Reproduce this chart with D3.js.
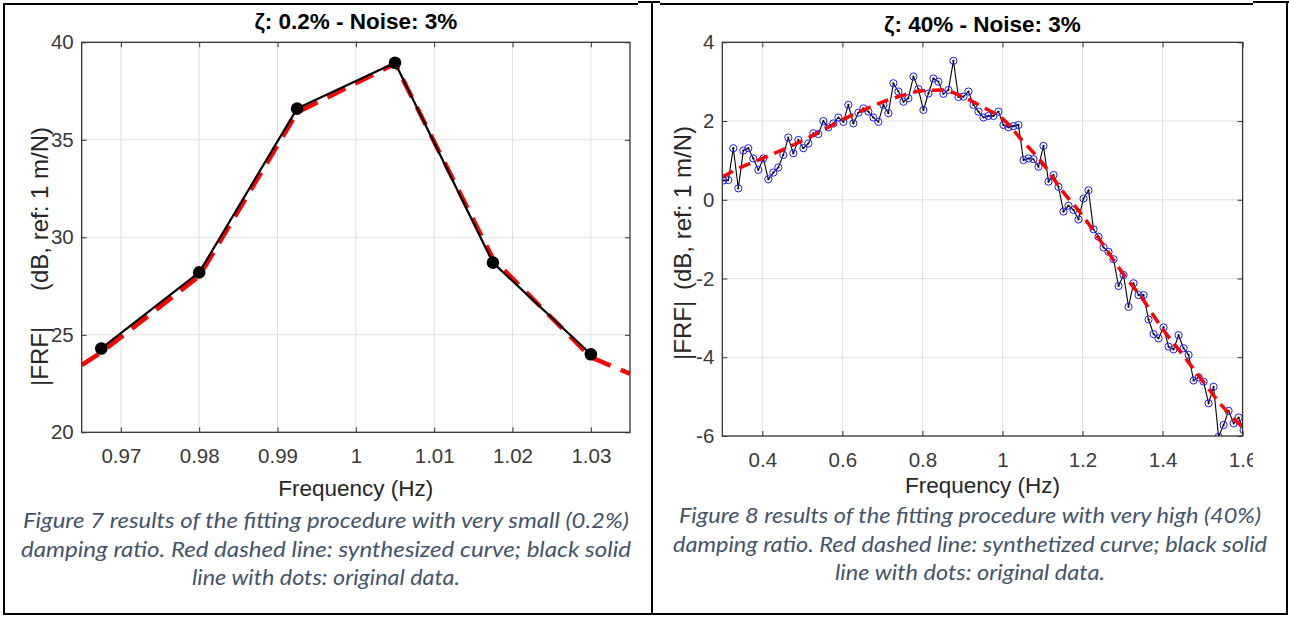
<!DOCTYPE html>
<html>
<head>
<meta charset="utf-8">
<script src="https://cdn.jsdelivr.net/npm/d3@7"></script>
<style>
  body { margin: 0; background: #fff; }
  svg text { font-family: "Liberation Sans", Arial, Helvetica, sans-serif; }
  .caption { font-family: "Lato", "Open Sans", sans-serif; font-style: italic; fill: #44546A; }
</style>
</head>
<body>
<svg id="fig" width="1289" height="617"></svg>
<script>
// ---------- Figure 7: damping 0.2 %, noise 3 % ----------
const fig7Freq = [0.9675, 0.9800, 0.9925, 1.0050, 1.0175, 1.0300];
const fig7Data = [24.3, 28.2, 36.6, 38.95, 28.7, 24.0];
const fig7FitFreq = [0.965, 0.9675, 0.9800, 0.9925, 1.0050, 1.0175, 1.0300, 1.035];
const fig7Fit = [23.45, 24.1, 28.0, 36.4, 38.9, 28.9, 23.85, 23.0];
const fig7XTicks = [0.97, 0.98, 0.99, 1, 1.01, 1.02, 1.03];
const fig7YTicks = [20, 25, 30, 35, 40];

// ---------- Figure 8: damping 40 %, noise 3 % ----------
const fig8Freq = [
  0.3025, 0.3150, 0.3275, 0.3400, 0.3525, 0.3650, 0.3775, 0.3900, 0.4025, 0.4150,
  0.4275, 0.4400, 0.4525, 0.4650, 0.4775, 0.4900, 0.5025, 0.5150, 0.5275, 0.5400,
  0.5525, 0.5650, 0.5775, 0.5900, 0.6025, 0.6150, 0.6275, 0.6400, 0.6525, 0.6650,
  0.6775, 0.6900, 0.7025, 0.7150, 0.7275, 0.7400, 0.7525, 0.7650, 0.7775, 0.7900,
  0.8025, 0.8150, 0.8275, 0.8400, 0.8525, 0.8650, 0.8775, 0.8900, 0.9025, 0.9150,
  0.9275, 0.9400, 0.9525, 0.9650, 0.9775, 0.9900, 1.0025, 1.0150, 1.0275, 1.0400,
  1.0525, 1.0650, 1.0775, 1.0900, 1.1025, 1.1150, 1.1275, 1.1400, 1.1525, 1.1650,
  1.1775, 1.1900, 1.2025, 1.2150, 1.2275, 1.2400, 1.2525, 1.2650, 1.2775, 1.2900,
  1.3025, 1.3150, 1.3275, 1.3400, 1.3525, 1.3650, 1.3775, 1.3900, 1.4025, 1.4150,
  1.4275, 1.4400, 1.4525, 1.4650, 1.4775, 1.4900, 1.5025, 1.5150, 1.5275, 1.5400,
  1.5525, 1.5650, 1.5775, 1.5900, 1.6025
];
const fig8Data = [
  0.49, 0.50, 1.31, 0.29, 1.25, 1.31, 1.05, 0.76, 1.05, 0.52,
  0.69, 0.82, 1.14, 1.58, 1.18, 1.52, 1.31, 1.43, 1.69, 1.67,
  2.00, 1.84, 1.94, 2.09, 1.98, 2.41, 1.94, 2.21, 2.32, 2.24,
  2.09, 1.98, 2.41, 2.20, 2.96, 2.75, 2.49, 2.58, 3.13, 2.81,
  2.28, 2.70, 3.08, 3.00, 2.69, 2.79, 3.53, 2.61, 2.62, 2.75,
  2.41, 2.24, 2.09, 2.13, 2.13, 2.24, 1.90, 1.84, 1.87, 1.90,
  1.01, 1.05, 1.03, 0.84, 1.37, 0.46, 0.63, 0.33, -0.30, -0.15,
  -0.26, -0.50, 0.03, 0.24, -0.75, -0.94, -1.21, -1.32, -1.51, -2.19,
  -1.91, -2.72, -2.12, -2.42, -2.42, -3.04, -3.41, -3.52, -3.24, -3.73,
  -3.80, -3.44, -3.77, -3.94, -4.59, -4.51, -4.62, -5.17, -4.75, -6.02,
  -5.72, -5.36, -5.68, -5.53, -5.85
];
const fig8FitFreq = [
  0.30, 0.35, 0.40, 0.45, 0.50, 0.55, 0.60, 0.65, 0.70, 0.75, 0.80, 0.85, 0.90, 0.95,
  1.00, 1.05, 1.10, 1.15, 1.20, 1.25, 1.30, 1.35, 1.40, 1.45, 1.50, 1.55, 1.60
];
const fig8Fit = [
  0.58, 0.84, 1.05, 1.27, 1.50, 1.76, 2.03, 2.27, 2.48, 2.65, 2.77, 2.79, 2.62, 2.36,
  2.06, 1.50, 0.93, 0.22, -0.40, -1.12, -1.86, -2.52, -3.28, -3.93, -4.60, -5.25, -5.78
];
const fig8XTicks = [0.4, 0.6, 0.8, 1, 1.2, 1.4, 1.6];
const fig8YTicks = [-6, -4, -2, 0, 2, 4];

const svg = d3.select("#fig");
const defs = svg.append("defs");

function drawPanel(cfg) {
  const root = svg.append("g");
  if (cfg.clipRight) {
    defs.append("clipPath").attr("id", cfg.id + "-page")
      .append("rect").attr("x", 0).attr("y", 0).attr("width", cfg.clipRight).attr("height", 617);
    root.attr("clip-path", `url(#${cfg.id}-page)`);
  }
  const x = d3.scaleLinear().domain(cfg.xDomain).range([cfg.left, cfg.right]);
  const y = d3.scaleLinear().domain(cfg.yDomain).range([cfg.bottom, cfg.top]);

  // grid
  const grid = root.append("g").attr("stroke", "#e0e0e0").attr("stroke-width", 1);
  grid.selectAll(".gx").data(cfg.xTicks.filter(d => x(d) > cfg.left + 1 && x(d) < cfg.right - 1))
    .join("line").attr("x1", d => x(d)).attr("x2", d => x(d)).attr("y1", cfg.top).attr("y2", cfg.bottom);
  grid.selectAll(".gy").data(cfg.yTicks.filter(d => y(d) > cfg.top + 1 && y(d) < cfg.bottom - 1))
    .join("line").attr("y1", d => y(d)).attr("y2", d => y(d)).attr("x1", cfg.left).attr("x2", cfg.right);

  // plotting area clip
  defs.append("clipPath").attr("id", cfg.id + "-plot")
    .append("rect").attr("x", cfg.left).attr("y", cfg.top)
    .attr("width", cfg.right - cfg.left).attr("height", cfg.bottom - cfg.top);
  const plot = root.append("g").attr("clip-path", `url(#${cfg.id}-plot)`);

  const fitLine = d3.line().x((d, i) => x(cfg.fitFreq[i])).y(d => y(d)).curve(cfg.fitCurve);
  const dataLine = d3.line().x((d, i) => x(cfg.freq[i])).y(d => y(d));

  const drawFit = () => plot.append("path").datum(cfg.fit)
    .attr("d", fitLine).attr("fill", "none").attr("stroke", "#ff0000")
    .attr("stroke-width", cfg.fitWidth).attr("stroke-dasharray", cfg.fitDash);
  const drawData = () => {
    plot.append("path").datum(cfg.data).attr("d", dataLine).attr("fill", "none")
      .attr("stroke", "#000").attr("stroke-width", cfg.dataWidth).attr("stroke-linejoin", "round");
    const pts = cfg.data.map((v, i) => [cfg.freq[i], v]);
    if (cfg.marker === "dot") {
      plot.append("g").selectAll("circle").data(pts).join("circle")
        .attr("cx", d => x(d[0])).attr("cy", d => y(d[1])).attr("r", 6.3).attr("fill", "#000");
    } else {
      const m = plot.append("g");
      m.selectAll(".ring").data(pts).join("circle")
        .attr("cx", d => x(d[0])).attr("cy", d => y(d[1])).attr("r", 3.6)
        .attr("fill", "none").attr("stroke", "#1a1aff").attr("stroke-width", 1);
      m.selectAll(".pt").data(pts).join("circle")
        .attr("cx", d => x(d[0])).attr("cy", d => y(d[1])).attr("r", 1.1).attr("fill", "#000");
    }
  };
  if (cfg.fitOnTop) { drawData(); drawFit(); } else { drawFit(); drawData(); }

  // axes (ticks inside, box on)
  const axisColor = "#333";
  const fmt = d => String(d);
  const ax = [
    { a: d3.axisBottom(x).tickValues(cfg.xTicks).tickFormat(fmt).tickPadding(16), t: `translate(0,${cfg.bottom})` },
    { a: d3.axisTop(x).tickValues(cfg.xTicks).tickFormat(""), t: `translate(0,${cfg.top})` },
    { a: d3.axisLeft(y).tickValues(cfg.yTicks).tickFormat(fmt).tickPadding(8), t: `translate(${cfg.left},0)` },
    { a: d3.axisRight(y).tickValues(cfg.yTicks).tickFormat(""), t: `translate(${cfg.right},0)` }
  ];
  ax.forEach(o => {
    const g = root.append("g").attr("transform", o.t)
      .call(o.a.tickSizeInner(-5).tickSizeOuter(0));
    g.select(".domain").remove();
    g.selectAll(".tick line").attr("stroke", axisColor).attr("stroke-width", 1);
    g.selectAll(".tick text").attr("fill", "#3a3a3a").style("font-size", "20.5px")
      .style("font-family", "'Liberation Sans', Arial, sans-serif");
  });
  root.append("rect").attr("x", cfg.left).attr("y", cfg.top)
    .attr("width", cfg.right - cfg.left).attr("height", cfg.bottom - cfg.top)
    .attr("fill", "none").attr("stroke", axisColor).attr("stroke-width", 1.3);

  // texts
  const cx = (cfg.left + cfg.right) / 2;
  root.append("text").attr("x", cx).attr("y", cfg.titleY).attr("text-anchor", "middle")
    .style("font-size", "22.5px").style("font-weight", "bold").attr("fill", "#000").text(cfg.title);
  root.append("text").attr("x", cx).attr("y", cfg.xLabelY).attr("text-anchor", "middle")
    .style("font-size", "22.5px").attr("fill", "#262626").text("Frequency (Hz)");
  // y label in two pieces: magnitude symbol and unit reference
  root.append("text").attr("transform", `translate(${cfg.yLabelX},${cfg.frfStart}) rotate(-90)`)
    .attr("text-anchor", "start").style("font-size", "24px").attr("fill", "#262626").text("|FRF|");
  root.append("text").attr("transform", `translate(${cfg.yLabelX},${cfg.unitStart}) rotate(-90)`)
    .attr("text-anchor", "start").style("font-size", "24px").attr("fill", "#262626").text("(dB, ref: 1 m/N)");

  // caption
  const cap = svg.append("g");
  cfg.caption.forEach((c, i) => {
    cap.append("text").attr("class", "caption").attr("x", cfg.capX).attr("y", cfg.capY[i])
      .attr("text-anchor", "middle").style("font-size", "21.5px")
      .attr("textLength", c.w).attr("lengthAdjust", "spacingAndGlyphs").text(c.t);
  });
}

drawPanel({
  id: "f7", left: 81.7, right: 630, top: 42.3, bottom: 432.3,
  xDomain: [0.965, 1.035], yDomain: [20, 40],
  xTicks: fig7XTicks, yTicks: fig7YTicks,
  freq: fig7Freq, data: fig7Data, fitFreq: fig7FitFreq, fit: fig7Fit,
  fitCurve: d3.curveLinear, fitWidth: 4.5, fitDash: "20,11", dataWidth: 2.2,
  marker: "dot", fitOnTop: false,
  title: "\u03b6: 0.2% - Noise: 3%", titleY: 29,
  xLabelY: 496, yLabelX: 48, frfStart: 386, unitStart: 291,
  capX: 326, capY: [528, 557, 585],
  caption: [
    { t: "Figure 7 results of the fitting procedure with very small (0.2%)", w: 606 },
    { t: "damping ratio. Red dashed line: synthesized curve; black solid", w: 610 },
    { t: "line with dots: original data.", w: 268 }
  ]
});

drawPanel({
  id: "f8", left: 722.3, right: 1242.6, top: 42.3, bottom: 436,
  xDomain: [0.3, 1.6], yDomain: [-6, 4],
  xTicks: fig8XTicks, yTicks: fig8YTicks,
  freq: fig8Freq, data: fig8Data, fitFreq: fig8FitFreq, fit: fig8Fit,
  fitCurve: d3.curveMonotoneX, fitWidth: 3.5, fitDash: "12,7", dataWidth: 1.1,
  marker: "ring", fitOnTop: true, clipRight: 1253,
  title: "\u03b6: 40% - Noise: 3%", titleY: 32,
  xLabelY: 493, yLabelX: 691, frfStart: 360, unitStart: 290,
  capX: 970, capY: [523, 552, 580],
  caption: [
    { t: "Figure 8 results of the fitting procedure with very high (40%)", w: 582 },
    { t: "damping ratio. Red dashed line: synthetized curve; black solid", w: 594 },
    { t: "line with dots: original data.", w: 270 }
  ]
});

// table frame around the two figures
const frame = svg.append("g").attr("stroke", "#000").attr("stroke-width", 2).attr("fill", "none");
[
  [3, 4, 638, 4], [638, 2, 660, 2], [660, 4, 1253, 4], [1253, 2, 1289, 2],
  [4, 3, 4, 615], [652, 2, 652, 615], [1287, 2, 1287, 615], [3, 614, 1288, 614]
].forEach(s => frame.append("line").attr("x1", s[0]).attr("y1", s[1]).attr("x2", s[2]).attr("y2", s[3]));
</script>
</body>
</html>
